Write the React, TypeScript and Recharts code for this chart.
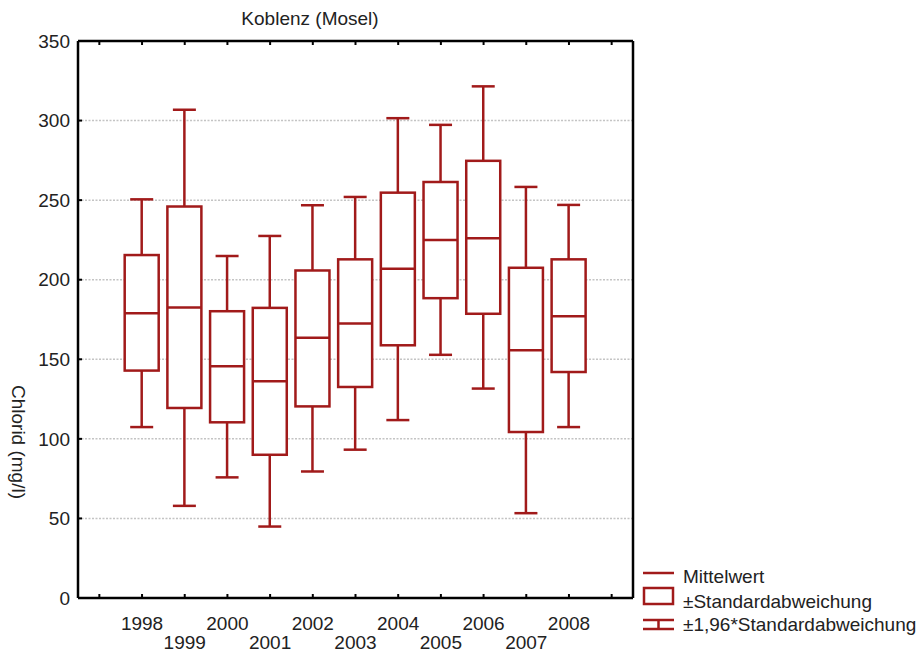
import { BarChart, Bar, XAxis, YAxis, CartesianGrid } from 'recharts'

// axis slots (1997 and 2009 are empty padding slots)
const slots = [1997, 1998, 1999, 2000, 2001, 2002, 2003, 2004, 2005, 2006, 2007, 2008, 2009]
const years = [1998, 1999, 2000, 2001, 2002, 2003, 2004, 2005, 2006, 2007, 2008]
const mean = [179, 182.5, 145.6, 136.2, 163.5, 172.5, 206.9, 224.9, 226, 155.7, 177.1]
const sdLow = [142.9, 119.4, 110.4, 90, 120.4, 132.6, 158.8, 188.4, 178.6, 104.3, 142]
const sdHigh = [215.5, 246, 180.2, 182.3, 205.8, 212.8, 254.7, 261.4, 274.7, 207.5, 212.8]
const ciLow = [107.4, 57.9, 75.8, 44.9, 79.5, 93.2, 111.8, 152.8, 131.6, 53.3, 107.4]
const ciHigh = [250.5, 306.8, 214.9, 227.5, 246.8, 252, 301.5, 297.3, 321.5, 258.3, 247]
const yTicks = [0, 50, 100, 150, 200, 250, 300, 350]

const RED = '#a11a1a'
const FONT = '"Liberation Sans", Arial, sans-serif'
const FS = 19

const data = slots.map((yr) => {
  const i = years.indexOf(yr)
  if (i < 0) return { year: yr, range: null }
  return {
    year: yr,
    range: [ciLow[i], ciHigh[i]],
    mean: mean[i],
    sdLow: sdLow[i],
    sdHigh: sdHigh[i],
    ciLow: ciLow[i],
    ciHigh: ciHigh[i],
  }
})

function BoxShape(props: any) {
  const { x, y, width, height, payload } = props
  if (!payload || payload.range == null) return null
  const hi = payload.ciHigh
  const lo = payload.ciLow
  const k = height / (hi - lo)
  const py = (v: number) => y + (hi - v) * k
  const cx = x + width / 2
  const cap = 11.5
  return (
    <g stroke={RED} strokeWidth={2.5} fill="none">
      <line x1={cx} x2={cx} y1={py(hi)} y2={py(payload.sdHigh)} />
      <line x1={cx} x2={cx} y1={py(payload.sdLow)} y2={py(lo)} />
      <line x1={cx - cap} x2={cx + cap} y1={py(hi)} y2={py(hi)} />
      <line x1={cx - cap} x2={cx + cap} y1={py(lo)} y2={py(lo)} />
      <rect x={x} y={py(payload.sdHigh)} width={width} height={py(payload.sdLow) - py(payload.sdHigh)} fill="#fff" />
      <line x1={x} x2={x + width} y1={py(payload.mean)} y2={py(payload.mean)} />
    </g>
  )
}

function YearTick(props: any) {
  const { x, y, payload } = props
  const v = Number(payload.value)
  if (!years.includes(v)) return <g />
  const dy = v % 2 === 0 ? 25 : 44
  return (
    <text x={x} y={y + dy} dy="0.355em" textAnchor="middle" fill="#222" fontSize={FS} fontFamily={FONT}>
      {v}
    </text>
  )
}

const axisLine = { stroke: '#000', strokeWidth: 2.5 }
const tickLine = { stroke: '#000', strokeWidth: 2 }

export default function App() {
  return (
    <div style={{ position: 'absolute', left: 0, top: 0, width: 919, height: 654, background: '#fff', fontFamily: FONT }}>
      <div style={{ position: 'absolute', left: 0, width: 620, top: 8, textAlign: 'center', fontSize: FS, color: '#222' }}>
        Koblenz (Mosel)
      </div>
      <div
        style={{
          position: 'absolute', left: 18, top: 442, transform: 'translate(-50%, -50%) rotate(90deg)',
          fontSize: FS, color: '#222', whiteSpace: 'nowrap',
        }}
      >
        Chlorid (mg/l)
      </div>
      <BarChart width={919} height={654} data={data} margin={{ top: 31, right: 276, bottom: 0, left: 18 }}>
        <CartesianGrid yAxisId="left" xAxisId="bottom" vertical={false} stroke="#c4c4c4" strokeDasharray="2 1.5" strokeWidth={1.5} />
        <XAxis
          xAxisId="bottom" dataKey="year" height={56} interval={0}
          axisLine={axisLine} tickLine={tickLine} tickSize={-4} tickMargin={4}
          tick={<YearTick />}
        />
        <XAxis
          xAxisId="top" dataKey="year" orientation="top" height={10} interval={0}
          axisLine={axisLine} tickLine={tickLine} tickSize={-4} tick={() => <g />}
        />
        <YAxis
          yAxisId="left" type="number" domain={[0, 350]} ticks={yTicks} width={60} interval={0}
          axisLine={axisLine} tickLine={tickLine} tickSize={-4} tickMargin={12}
          tick={{ fill: '#222', fontSize: FS, fontFamily: FONT }}
        />
        <YAxis
          yAxisId="right" orientation="right" type="number" domain={[0, 350]} ticks={yTicks} width={10} interval={0}
          axisLine={axisLine} tickLine={tickLine} tickSize={-4} tick={() => <g />}
        />
        <Bar xAxisId="bottom" yAxisId="left" dataKey="range" barSize={34} shape={<BoxShape />} isAnimationActive={false} />
      </BarChart>
      <svg style={{ position: 'absolute', left: 640, top: 560 }} width={279} height={80}>
        <g stroke={RED} strokeWidth={2.5} fill="none">
          <line x1={3} x2={34} y1={13} y2={13} />
          <rect x={4} y={28} width={29} height={16} />
          <line x1={3} x2={34} y1={60} y2={60} />
          <line x1={18.5} x2={18.5} y1={60} y2={69} />
          <line x1={3} x2={34} y1={69} y2={69} />
        </g>
        <g fill="#222" fontSize={FS} fontFamily={FONT}>
          <text x={43} y={17} dy="0.3em">Mittelwert</text>
          <text x={43} y={42} dy="0.3em">±Standardabweichung</text>
          <text x={43} y={65} dy="0.3em">±1,96*Standardabweichung</text>
        </g>
      </svg>
    </div>
  )
}
